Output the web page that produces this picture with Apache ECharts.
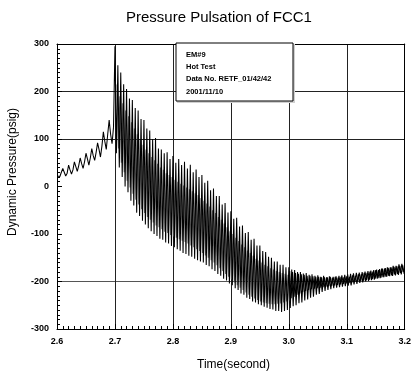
<!DOCTYPE html>
<html>
<head>
<meta charset="utf-8">
<script src="https://cdn.jsdelivr.net/npm/echarts@6/dist/echarts.min.js"></script>
<style>html,body{margin:0;padding:0;background:#fff}#c{width:414px;height:374px}</style>
</head>
<body>
<div id="c"></div>
<script>
// ---- data ----
const xTicks = [2.6, 2.7, 2.8, 2.9, 3.0, 3.1, 3.2];
const yTicks = [-300, -200, -100, 0, 100, 200, 300];

// slow pre-surge wiggle, sampled every 0.0025 s from 2.600 s
const preStart = 2.6, preStep = 0.0025;
const preValues = [22,20,21,30,38,30,22,28,45,35,26,35,52,42,32,44,60,48,38,52,
                   70,58,45,60,80,65,55,72,92,78,62,85,115,95,78,110,140,110,90,125];

// main (black) trace: one peak and one trough per 0.005 s cycle from 2.700 s
const mainStart = 2.7, cycle = 0.005;
const mainPeaks = [295,255,240,215,205,185,182,165,160,142,140,122,118,100,102,80,78,70,72,58,
  64,50,58,45,52,38,46,30,36,20,24,8,12,-8,-4,-20,-20,-38,-35,-55,
  -52,-68,-66,-84,-82,-98,-96,-112,-110,-124,-124,-136,-138,-148,-150,-158,-158,-165,-165,-170,
  -170,-175,-176,-180,-180,-183,-182,-186,-185,-188,-187,-190,-188,-191,-189,-192,-190,-192,-190,-191,
  -189,-190,-187,-188,-185,-185,-182,-182,-179,-179,-176,-176,-173,-173,-170,-170,-167,-167,-164,-163];
const mainTroughs = [70,40,20,0,-12,-30,-40,-55,-62,-72,-80,-88,-94,-100,-104,-110,-112,-118,-120,-125,
  -128,-132,-135,-140,-142,-146,-148,-152,-155,-158,-160,-165,-168,-174,-178,-184,-188,-194,-198,-204,
  -208,-214,-218,-225,-228,-234,-237,-242,-244,-248,-250,-253,-255,-258,-259,-262,-262,-264,-262,-260,
  -256,-252,-250,-246,-244,-240,-238,-234,-232,-228,-226,-222,-220,-218,-216,-214,-213,-212,-211,-210,
  -209,-208,-206,-205,-203,-202,-200,-199,-197,-196,-194,-193,-191,-190,-188,-187,-185,-184,-182,-180];

// second (grey) trace, offset in phase, 2.7035 s to 3.0 s
const greyStart = 2.7035;
const greyPeaks = [215,190,175,160,148,135,122,110,98,88,78,70,62,55,48,40,35,28,24,20,
  14,10,6,2,-2,-6,-10,-14,-18,-24,-30,-36,-42,-50,-56,-64,-70,-78,-86,-94,
  -100,-108,-115,-122,-128,-135,-140,-146,-152,-156,-160,-165,-168,-172,-175,-178,-180,-182,-184,-186];
const greyTroughs = [80,50,30,12,-2,-15,-28,-38,-48,-56,-64,-70,-76,-82,-86,-90,-95,-98,-102,-105,
  -108,-111,-114,-117,-120,-124,-128,-132,-136,-140,-145,-150,-155,-160,-166,-172,-178,-184,-190,-196,
  -202,-208,-213,-218,-223,-228,-232,-236,-239,-242,-244,-246,-247,-248,-248,-247,-246,-244,-242,-240];

// dense dark tail, 3.0015 s to 3.2 s
const tailStart = 3.0015;
const tailPeaks = [-178,-180,-182,-184,-185,-186,-188,-188,-189,-190,-190,-191,-191,-191,-190,-190,-189,-188,-187,-186,
  -185,-184,-183,-182,-181,-180,-179,-178,-177,-176,-175,-174,-173,-172,-171,-170,-169,-168,-167,-166];
const tailTroughs = [-235,-232,-228,-225,-222,-220,-218,-216,-215,-214,-213,-212,-211,-210,-209,-208,-207,-206,-205,-204,
  -203,-202,-201,-200,-199,-198,-197,-196,-195,-194,-193,-192,-191,-190,-189,-188,-187,-186,-185,-184];

const infoLines = ['EM#9', 'Hot Test', 'Data No. RETF_01/42/42', '2001/11/10'];

// ---- build series ----
function r(v){ return Math.round(v*100000)/100000; }
function zig(start, peaks, troughs){
  const out = [];
  peaks.forEach((p,i)=>{
    out.push([r(start+i*cycle), p]);
    out.push([r(start+i*cycle+cycle/2), troughs[i]]);
  });
  return out;
}
const mainData = [];
preValues.forEach((v,i)=>mainData.push([r(preStart+i*preStep), v]));
zig(mainStart, mainPeaks, mainTroughs).forEach(p=>mainData.push(p));
const greyData = zig(greyStart, greyPeaks, greyTroughs);
const tailData = zig(tailStart, tailPeaks, tailTroughs);

const FONT = 'Liberation Sans, Arial, sans-serif';
const chart = echarts.init(document.getElementById('c'), null, {renderer:'canvas'});
const xSplitColors = xTicks.map((t,i)=> (i===0||i===xTicks.length-1) ? 'rgba(0,0,0,0)' : '#222');
const ySplitColors = yTicks.map(v => (v===200||v===100) ? '#222' : (v===-200 ? '#555' : 'rgba(0,0,0,0)'));

chart.setOption({
  animation: false,
  backgroundColor: '#fff',
  grid: {left:57, right:4, top:44, bottom:45, containLabel:false},
  xAxis: [{
    type:'value', min:2.6, max:3.2, interval:0.1,
    axisLine:{show:true, onZero:false, lineStyle:{color:'#000', width:1}},
    axisTick:{show:true, inside:true, length:5, lineStyle:{color:'#000'}},
    minorTick:{show:true, splitNumber:10, length:3, lineStyle:{color:'#000'}},
    axisLabel:{color:'#000', fontFamily:FONT, fontSize:9, fontWeight:'bold', margin:8,
      formatter: v => v.toFixed(1)},
    splitLine:{show:true, lineStyle:{color:xSplitColors, width:1}}
  },{
    type:'value', min:2.6, max:3.2, position:'top',
    axisLine:{show:true, onZero:false, lineStyle:{color:'#000', width:1}},
    axisTick:{show:false}, axisLabel:{show:false}, splitLine:{show:false}
  }],
  yAxis: [{
    type:'value', min:-300, max:300, interval:100,
    axisLine:{show:true, onZero:false, lineStyle:{color:'#000', width:1}},
    axisTick:{show:true, inside:true, length:5, lineStyle:{color:'#000'}},
    minorTick:{show:true, splitNumber:10, length:3, lineStyle:{color:'#000'}},
    axisLabel:{color:'#000', fontFamily:FONT, fontSize:9, fontWeight:'bold', margin:8},
    splitLine:{show:true, lineStyle:{color:ySplitColors, width:1}}
  },{
    type:'value', min:-300, max:300, position:'right',
    axisLine:{show:true, onZero:false, lineStyle:{color:'#000', width:1}},
    axisTick:{show:false}, axisLabel:{show:false}, splitLine:{show:false}
  }],
  series: [{
    type:'line', data: greyData, showSymbol:false, symbol:'none',
    lineStyle:{color:'#6a6a6a', width:1.1}, z:2, silent:true
  },{
    type:'line', data: mainData, showSymbol:false, symbol:'none',
    lineStyle:{color:'#000', width:1.05}, z:3, silent:true
  },{
    type:'line', data: tailData, showSymbol:false, symbol:'none',
    lineStyle:{color:'#000', width:1.05}, z:3, silent:true
  }],
  graphic: [
    {type:'text', left:126, top:10, style:{text:'Pressure Pulsation of FCC1', font:'15px '+FONT, fill:'#000'}},
    {type:'text', left:197, top:359, style:{text:'Time(second)', font:'12px '+FONT, fill:'#000'}},
    {type:'text', x:13, y:172, rotation:Math.PI/2,
      style:{text:'Dynamic Pressure(psig)', font:'12px '+FONT, fill:'#000', align:'center', verticalAlign:'middle'}},
    {type:'rect', shape:{x:177, y:44, width:118, height:59}, style:{fill:'#d0d0d0'}, z:9},
    {type:'rect', shape:{x:176, y:43, width:117, height:58}, style:{fill:'#fff', stroke:'#000', lineWidth:1}, z:10},
    ...infoLines.map((t,i)=>({type:'text', x:186, y:55+i*12.2, z:11,
      style:{text:t, font:'bold 7.5px '+FONT, fill:'#000', verticalAlign:'middle'}}))
  ]
});
</script>
</body>
</html>
